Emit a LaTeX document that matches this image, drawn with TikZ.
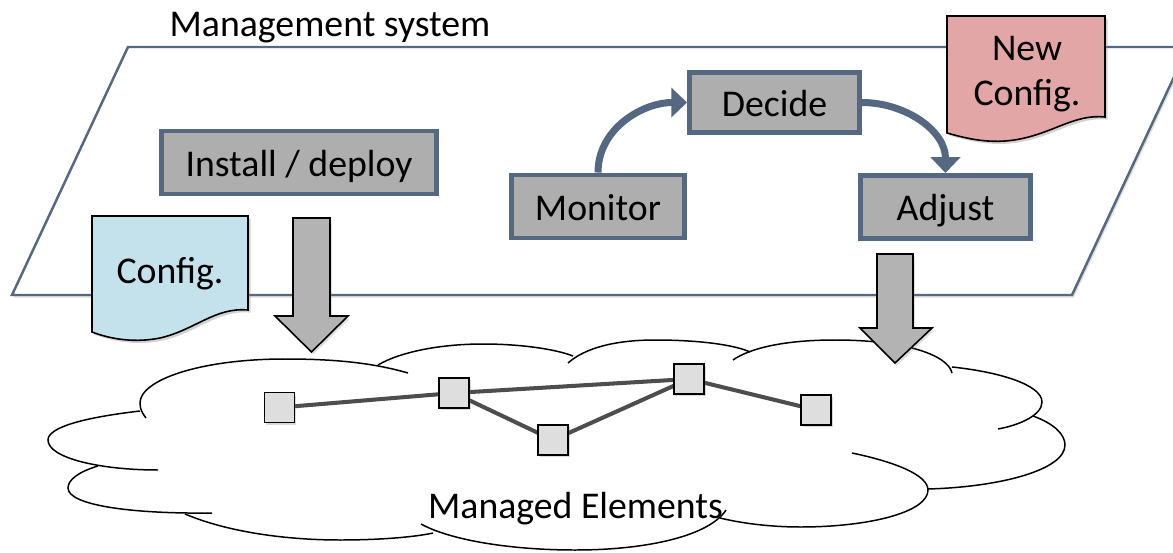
\documentclass[tikz,border=0pt]{standalone}
\usepackage{fontspec}
\setmainfont{Carlito}
\usetikzlibrary{arrows.meta,shadows,backgrounds}
\definecolor{slate}{RGB}{84,104,130}
\definecolor{boxgray}{RGB}{174,174,174}
\definecolor{blockgray}{RGB}{179,179,179}
\definecolor{cfgblue}{RGB}{196,226,235}
\definecolor{cfgpink}{RGB}{226,166,166}
\definecolor{elemgray}{RGB}{222,222,222}
\definecolor{linkgray}{RGB}{77,77,77}
\tikzset{
  stage/.style={draw=slate,line width=2.8pt,fill=boxgray,inner sep=0pt,
    minimum height=1.26cm,text height=1.55em,text depth=0pt},
  flow/.style={draw=slate,line width=4pt,-{Triangle[width=16.5pt,length=9pt]}},
  doc/.style={draw=black,line width=0.9pt,
    drop shadow={opacity=0.35,shadow xshift=1.5pt,shadow yshift=-1.5pt}},
  block/.style={draw=black,line width=0.9pt,fill=blockgray,
    drop shadow={opacity=0.25,shadow xshift=1pt,shadow yshift=-1.5pt}},
  elem/.style={draw=black,line width=0.9pt,fill=elemgray,inner sep=0pt,
    minimum size=0.6cm,drop shadow={opacity=0.3,shadow xshift=1pt,shadow yshift=-1.2pt}},
  link/.style={draw=linkgray,line width=2.3pt},
  puff/.style={draw=black,line width=0.85pt}
}
\begin{document}
\begin{tikzpicture}[x=0.02cm,y=0.02cm,font=\fontsize{21.5}{26}\selectfont]
  \useasboundingbox (0,0) rectangle (1173,552);
  \clip (0,0) rectangle (1173,552);
  % management plane
  \draw[draw=slate,line width=1.4pt,fill=white,
    drop shadow={opacity=0.25,shadow xshift=1pt,shadow yshift=-1.5pt}]
    (12,257) -- (128,505) -- (1188,505) -- (1072,257) -- cycle;
  \node[anchor=base] (mgmt) at (330,515) {Management system};

  \node[stage,minimum width=5.5cm] (install) at (299,389.5) {Install / deploy};
  \node[stage,minimum width=3.46cm] (monitor) at (598,345.5) {Monitor};
  \node[stage,minimum width=3.4cm,minimum height=1.2cm] (decide) at (774.5,449.5) {Decide};
  \node[stage,minimum width=3.4cm] (adjust) at (945.5,345) {Adjust};

  \draw[flow] (monitor.north) to[out=90,in=180] (decide.west);
  \draw[flow] (decide.east) to[out=0,in=90] (adjust.north);

  % documents
  \draw[doc,fill=cfgpink] (947,536) -- (1105,536) -- (1105,435)
    .. controls (1075,438) and (1055,420) .. (1020,413)
    .. controls (990,407) and (965,414) .. (947,419) -- cycle;
  \node[align=center,anchor=base] (newcfg) at (1027,446) {New\\Config.};
  \draw[doc,fill=cfgblue] (92,336) -- (248,336) -- (248,242)
    .. controls (215,245) and (195,222) .. (160,214)
    .. controls (130,208) and (105,215) .. (92,220) -- cycle;
  \node[anchor=base] (cfg) at (170,269) {Config.};

  % block arrows
  \draw[block] (293,334) -- (330,334) -- (330,236) -- (348,236) -- (311.5,200)
    -- (275,236) -- (293,236) -- cycle;

  % cloud
  \draw[puff] (408,179) .. controls (370,190) and (330,193) .. (285,193)
    .. controls (200,193) and (140,172) .. (140,149) .. controls (140,142) and (143,138) .. (146,134);
  \draw[puff] (378,187) .. controls (400,200) and (440,208) .. (483,208)
    .. controls (520,208) and (555,203) .. (573,196);
  \draw[puff] (568,189) .. controls (585,204) and (615,212) .. (655,212)
    .. controls (700,212) and (735,207) .. (750,200);
  \draw[puff] (733,192) .. controls (750,204) and (785,212) .. (835,212)
    .. controls (905,212) and (948,197) .. (952,179);
  \draw[puff] (952,185) .. controls (1000,180) and (1042,167) .. (1042,150)
    .. controls (1042,137) and (1020,127) .. (998,123);
  \draw[puff] (1033,136) .. controls (1055,128) and (1065,117) .. (1065,107)
    .. controls (1065,82) and (1000,65) .. (928,63);
  \draw[puff] (852,99) .. controls (895,90) and (928,77) .. (928,62)
    .. controls (928,40) and (870,25) .. (800,25) .. controls (770,25) and (740,29) .. (720,34);
  \draw[puff] (421,28) .. controls (450,12) and (510,2) .. (575,2)
    .. controls (650,2) and (710,17) .. (726,42);
  \draw[puff] (185,38) .. controls (230,19) and (290,12) .. (340,12)
    .. controls (380,12) and (415,15) .. (433,19);
  \draw[puff] (98,86) .. controls (78,80) and (68,72) .. (68,64)
    .. controls (68,47) and (130,38) .. (212,39);
  \draw[puff] (140,141) .. controls (80,134) and (48,124) .. (48,112)
    .. controls (48,94) and (100,82) .. (158,82);

  \draw[block] (877,298) -- (913,298) -- (913,224) -- (932,224) -- (895,189)
    -- (860,224) -- (877,224) -- cycle;

  % managed elements
  \node[elem] (e1) at (279.5,144.5) {};
  \node[elem] (e2) at (454,159) {};
  \node[elem] (e3) at (553,112) {};
  \node[elem] (e4) at (689,173) {};
  \node[elem] (e5) at (816,142) {};
  \begin{scope}[on background layer]
    \draw[link] (e1.center) -- (e2.center) -- (e4.center) -- (e5.center);
    \draw[link] (e2.center) -- (e3.center) -- (e4.center);
  \end{scope}
  \node[anchor=base] (managed) at (575.5,34) {Managed Elements};
\end{tikzpicture}
\end{document}
